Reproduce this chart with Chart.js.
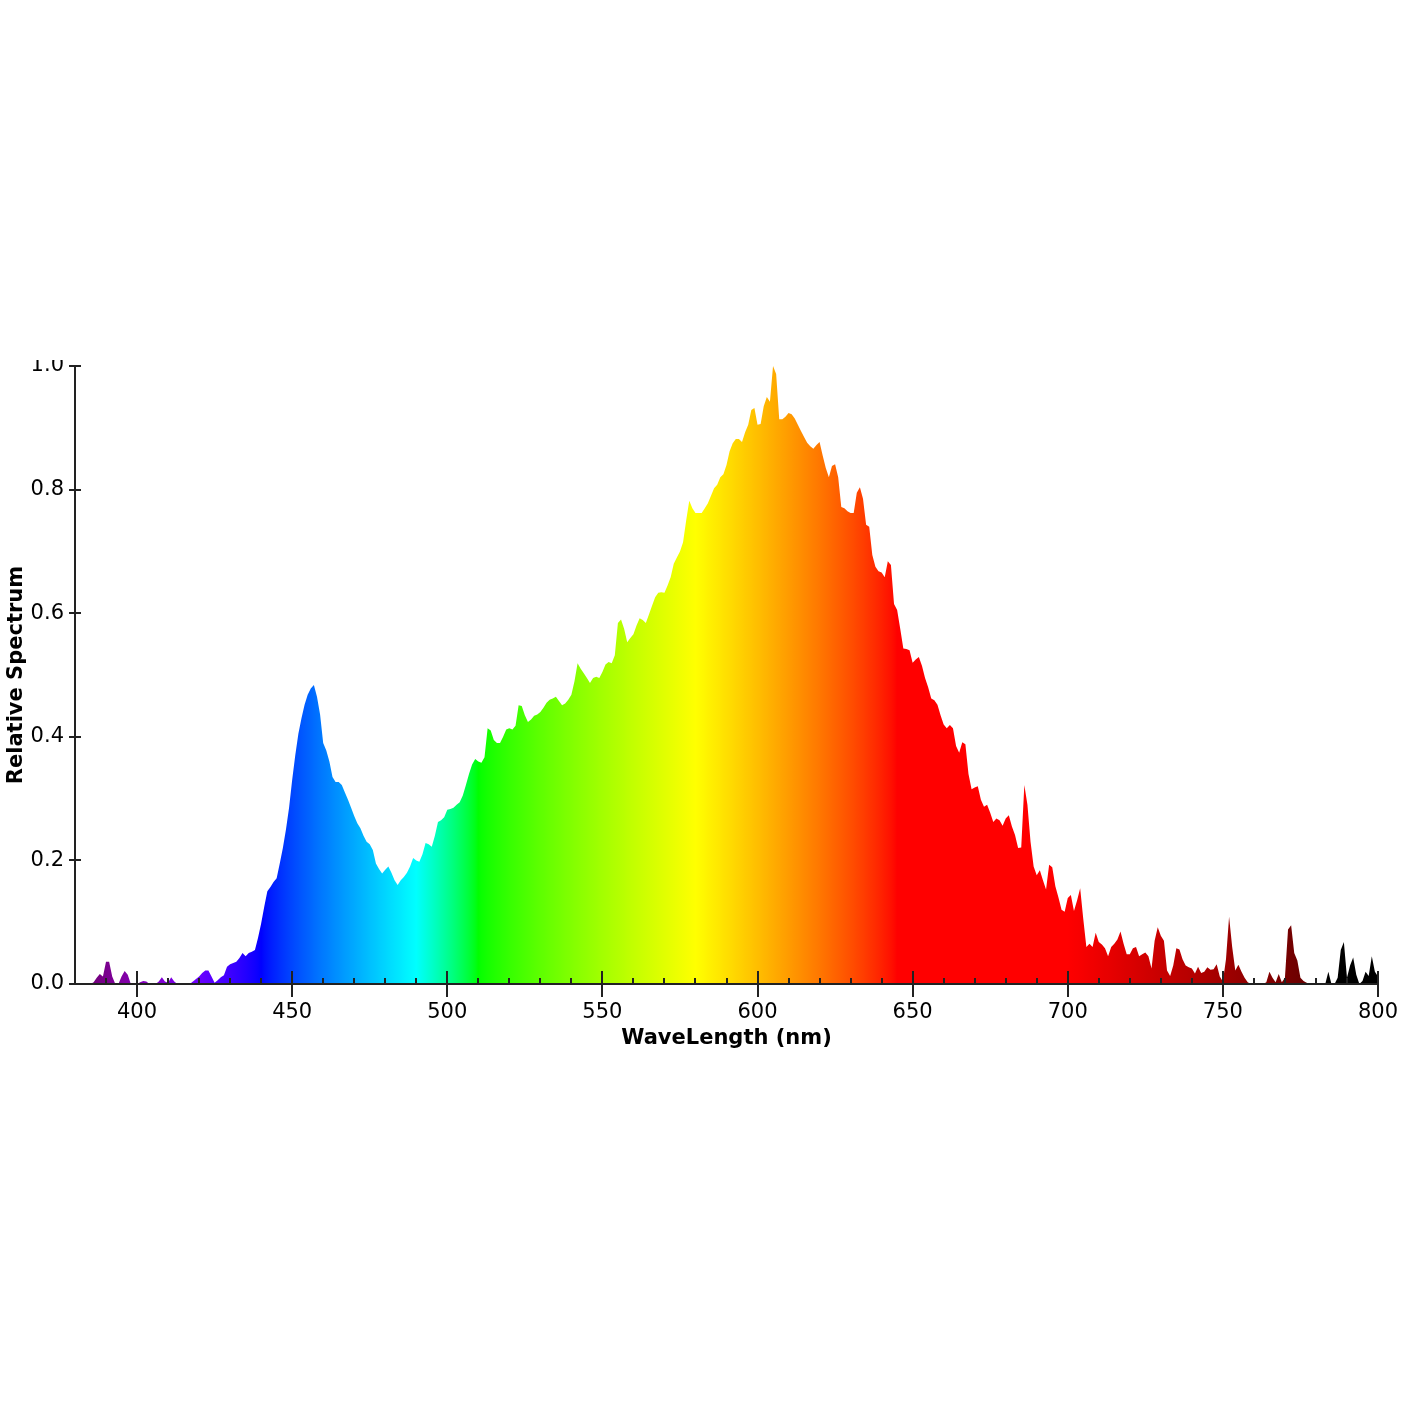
<!DOCTYPE html>
<html>
<head>
<meta charset="utf-8">
<script src="https://cdn.jsdelivr.net/npm/chart.js@4.4.1/dist/chart.umd.min.js"></script>
<style>
  body { margin: 0; background: #fff; }
  #wrap { position: absolute; left: 0; top: 360px; width: 1420px; height: 1060px; overflow: hidden; }
  #spec { position: absolute; left: 0; top: -360px; }
</style>
</head>
<body>
<div id="wrap"><canvas id="spec" width="1420" height="1420"></canvas></div>
<script>
// wavelength axis: one value per nm starting at waveStart
var waveStart = 380;
var waveEnd = 800;
var xTicks = [400, 450, 500, 550, 600, 650, 700, 750, 800];
var yTicks = [0, 0.2, 0.4, 0.6, 0.8, 1.0];

// relative spectrum (380 .. 800 nm)
var spectrum = [
  0, 0, 0, 0, 0, 0, 0.003, 0.010, 0.016, 0.012,
  0.036, 0.036, 0.012, 0, 0, 0.012, 0.021, 0.015, 0, 0,
  0, 0.003, 0.005, 0.004, 0, 0, 0, 0.004, 0.011, 0.004,
  0.002, 0.011, 0.004, 0, 0, 0, 0, 0, 0.004, 0.008,
  0.012, 0.018, 0.022, 0.022, 0.012, 0.002, 0.006, 0.011, 0.014, 0.028,
  0.032, 0.034, 0.036, 0.042, 0.050, 0.045, 0.050, 0.052, 0.055, 0.075,
  0.098, 0.125, 0.150, 0.157, 0.165, 0.171, 0.195, 0.220, 0.250, 0.285,
  0.330, 0.370, 0.405, 0.430, 0.452, 0.468, 0.478, 0.484, 0.465, 0.436,
  0.390, 0.378, 0.360, 0.335, 0.327, 0.327, 0.322, 0.310, 0.298, 0.285,
  0.272, 0.260, 0.252, 0.240, 0.230, 0.226, 0.217, 0.195, 0.186, 0.179,
  0.185, 0.190, 0.180, 0.168, 0.160, 0.168, 0.173, 0.180, 0.190, 0.204,
  0.200, 0.198, 0.210, 0.228, 0.226, 0.222, 0.240, 0.262, 0.265, 0.270,
  0.282, 0.283, 0.285, 0.290, 0.294, 0.305, 0.322, 0.340, 0.355, 0.364,
  0.360, 0.358, 0.367, 0.414, 0.410, 0.395, 0.390, 0.390, 0.400, 0.412,
  0.414, 0.412, 0.418, 0.451, 0.450, 0.435, 0.424, 0.428, 0.434, 0.436,
  0.440, 0.447, 0.455, 0.460, 0.462, 0.465, 0.458, 0.451, 0.454, 0.460,
  0.468, 0.490, 0.519, 0.510, 0.503, 0.495, 0.487, 0.495, 0.497, 0.495,
  0.505, 0.517, 0.521, 0.519, 0.532, 0.584, 0.590, 0.575, 0.553, 0.560,
  0.566, 0.580, 0.592, 0.589, 0.584, 0.598, 0.612, 0.626, 0.633, 0.634,
  0.633, 0.645, 0.658, 0.680, 0.690, 0.700, 0.715, 0.750, 0.782, 0.770,
  0.762, 0.762, 0.762, 0.770, 0.778, 0.790, 0.802, 0.808, 0.820, 0.825,
  0.840, 0.862, 0.875, 0.882, 0.882, 0.877, 0.893, 0.905, 0.929, 0.932,
  0.905, 0.906, 0.935, 0.950, 0.942, 1.000, 0.987, 0.914, 0.914, 0.918,
  0.924, 0.922, 0.915, 0.905, 0.895, 0.885, 0.876, 0.870, 0.866, 0.872,
  0.877, 0.855, 0.835, 0.820, 0.838, 0.841, 0.820, 0.772, 0.770, 0.765,
  0.762, 0.762, 0.795, 0.804, 0.785, 0.743, 0.740, 0.694, 0.675, 0.668,
  0.666, 0.658, 0.684, 0.678, 0.615, 0.605, 0.575, 0.543, 0.542, 0.540,
  0.520, 0.525, 0.529, 0.515, 0.495, 0.480, 0.462, 0.459, 0.452, 0.435,
  0.420, 0.414, 0.419, 0.414, 0.385, 0.374, 0.391, 0.388, 0.340, 0.315,
  0.318, 0.320, 0.298, 0.287, 0.290, 0.277, 0.262, 0.268, 0.265, 0.256,
  0.268, 0.273, 0.255, 0.241, 0.220, 0.221, 0.322, 0.290, 0.230, 0.190,
  0.176, 0.184, 0.168, 0.153, 0.193, 0.189, 0.158, 0.140, 0.120, 0.117,
  0.139, 0.144, 0.118, 0.135, 0.155, 0.105, 0.060, 0.065, 0.060, 0.083,
  0.068, 0.064, 0.058, 0.045, 0.060, 0.065, 0.072, 0.085, 0.065, 0.048,
  0.048, 0.058, 0.060, 0.045, 0.048, 0.051, 0.045, 0.025, 0.070, 0.092,
  0.078, 0.070, 0.022, 0.013, 0.030, 0.058, 0.056, 0.040, 0.030, 0.027,
  0.025, 0.017, 0.028, 0.018, 0.020, 0.027, 0.023, 0.024, 0.032, 0.012,
  0.004, 0.040, 0.109, 0.060, 0.022, 0.031, 0.020, 0.010, 0.003, 0,
  0, 0, 0, 0, 0.003, 0.020, 0.010, 0.003, 0.016, 0.003,
  0.010, 0.088, 0.095, 0.050, 0.038, 0.010, 0.005, 0.002, 0, 0,
  0, 0, 0, 0, 0.020, 0, 0, 0.010, 0.055, 0.068,
  0.010, 0.030, 0.043, 0.015, 0, 0.005, 0.020, 0.013, 0.045, 0.020,
  0.012
];

var FONT = '"DejaVu Sans", Verdana, sans-serif';

// colour of visible light for a wavelength (nm)
function waveColor(w) {
  var r = 0, g = 0, b = 0, f;
  if (w < 440) { r = (440 - w) / 60; b = 1; }
  else if (w < 490) { g = (w - 440) / 50; b = 1; }
  else if (w < 510) { g = 1; b = (510 - w) / 20; }
  else if (w < 580) { r = (w - 510) / 70; g = 1; }
  else if (w < 645) { r = 1; g = (645 - w) / 65; }
  else if (w <= 780) { r = 1; }
  if (w < 420) f = 0.3 + 0.7 * (w - 380) / 40;
  else if (w <= 700) f = 1;
  else if (w <= 780) f = 0.3 + 0.7 * (780 - w) / 80;
  else f = 0;
  function c(v) { return v === 0 ? 0 : Math.round(255 * Math.pow(v * f, 0.8)); }
  return 'rgb(' + c(r) + ',' + c(g) + ',' + c(b) + ')';
}

function rainbowFill(context) {
  var chart = context.chart;
  var area = chart.chartArea;
  if (!area) return 'rgba(0,0,0,0)';
  var x = chart.scales.x;
  var grad = chart.ctx.createLinearGradient(area.left, 0, area.right, 0);
  for (var w = waveStart; w <= waveEnd; w++) {
    var t = (x.getPixelForValue(w) - area.left) / (area.right - area.left);
    grad.addColorStop(Math.min(1, Math.max(0, t)), waveColor(w));
  }
  return grad;
}

// axis lines and tick marks (minor ticks point inward, major ones cross the axis)
var axisPlugin = {
  id: 'axisTicks',
  afterDatasetsDraw: function (chart) {
    var ctx = chart.ctx, a = chart.chartArea;
    var x = chart.scales.x, y = chart.scales.y;
    ctx.save();
    ctx.strokeStyle = '#222';
    ctx.lineWidth = 2;
    ctx.beginPath();
    ctx.moveTo(a.left, a.top);
    ctx.lineTo(a.left, a.bottom);
    ctx.lineTo(a.right, a.bottom);
    yTicks.forEach(function (v) {
      var py = Math.round(y.getPixelForValue(v));
      ctx.moveTo(a.left - 6, py);
      ctx.lineTo(a.left + 6, py);
    });
    for (var w = 390; w <= waveEnd; w += 10) {
      var px = Math.round(x.getPixelForValue(w));
      if (w % 50 === 0) {
        ctx.moveTo(px, a.bottom - 13);
        ctx.lineTo(px, a.bottom + 13);
      } else {
        ctx.moveTo(px, a.bottom - 6);
        ctx.lineTo(px, a.bottom);
      }
    }
    ctx.stroke();
    ctx.restore();
  }
};

var ctx = document.getElementById('spec');
var myChart = new Chart(ctx, {
  type: 'line',
  data: {
    datasets: [{
      label: 'Relative Spectrum',
      data: spectrum.map(function (v, i) { return { x: waveStart + i, y: v }; }),
      fill: 'origin',
      backgroundColor: rainbowFill,
      borderWidth: 0,
      borderColor: 'rgba(0,0,0,0)',
      pointRadius: 0,
      tension: 0
    }]
  },
  options: {
    responsive: false,
    animation: false,
    devicePixelRatio: 1,
    layout: { padding: { top: 366, right: 42, bottom: 369, left: 4 } },
    plugins: {
      legend: { display: false },
      tooltip: { enabled: false }
    },
    scales: {
      x: {
        type: 'linear',
        min: waveStart,
        max: waveEnd,
        grid: { display: false, drawTicks: false },
        border: { display: false },
        afterBuildTicks: function (s) { s.ticks = xTicks.map(function (v) { return { value: v }; }); },
        afterFit: function (s) { s.height = 67; },
        ticks: {
          color: '#000',
          padding: 16,
          maxRotation: 0,
          autoSkip: false,
          font: { family: FONT, size: 21 },
          callback: function (v) { return String(v); }
        },
        title: {
          display: true,
          text: 'WaveLength (nm)',
          color: '#000',
          padding: 0,
          font: { family: FONT, size: 21, weight: 'bold' }
        }
      },
      y: {
        min: 0,
        max: 1,
        grid: { display: false, drawTicks: false },
        border: { display: false },
        afterBuildTicks: function (s) { s.ticks = yTicks.map(function (v) { return { value: v }; }); },
        afterFit: function (s) { s.width = 71; },
        ticks: {
          color: '#000',
          padding: 11,
          font: { family: FONT, size: 21 },
          callback: function (v) { return Number(v).toFixed(1); }
        },
        title: {
          display: true,
          text: 'Relative Spectrum',
          color: '#000',
          padding: 0,
          font: { family: FONT, size: 21, weight: 'bold' }
        }
      }
    }
  },
  plugins: [axisPlugin]
});
</script>
</body>
</html>
